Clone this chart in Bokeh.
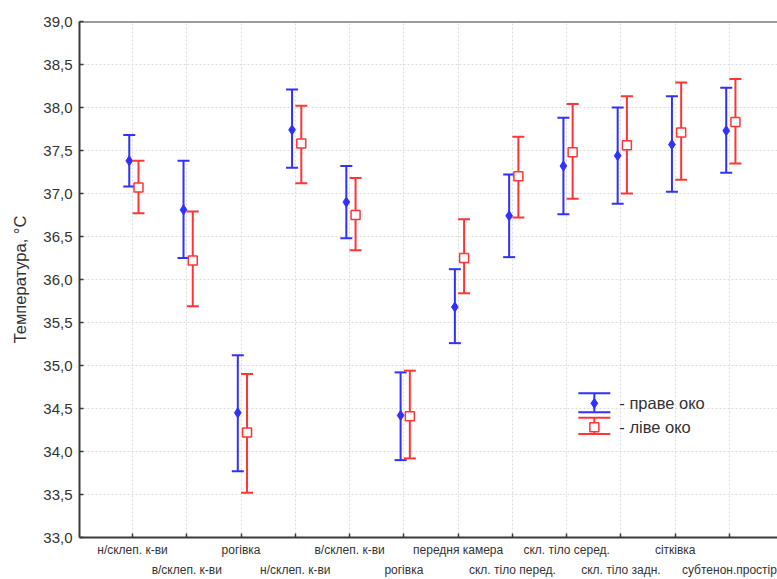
import numpy as np
from bokeh.plotting import figure
from bokeh.models import ColumnDataSource, FixedTicker, Span, Label, Range1d, LinearAxis
from bokeh.embed import file_html
from bokeh.resources import INLINE

# ---------------- data ----------------
categories = ["н/склеп. к-ви", "в/склеп. к-ви", "рогівка", "н/склеп. к-ви",
              "в/склеп. к-ви", "рогівка", "передня камера", "скл. тіло перед.",
              "скл. тіло серед.", "скл. тіло задн.", "сітківка", "субтенон.простір"]

right_mean  = [37.38, 36.81, 34.45, 37.74, 36.90, 34.42, 35.68, 36.74, 37.32, 37.44, 37.57, 37.73]
right_upper = [37.68, 37.38, 35.12, 38.21, 37.32, 34.92, 36.12, 37.22, 37.88, 38.00, 38.13, 38.23]
right_lower = [37.08, 36.25, 33.77, 37.30, 36.48, 33.90, 35.26, 36.26, 36.76, 36.88, 37.02, 37.24]

left_mean  = [37.07, 36.22, 34.22, 37.58, 36.75, 34.41, 36.25, 37.20, 37.48, 37.56, 37.71, 37.83]
left_upper = [37.38, 36.79, 34.90, 38.02, 37.18, 34.94, 36.70, 37.66, 38.04, 38.13, 38.29, 38.33]
left_lower = [36.77, 35.69, 33.52, 37.12, 36.34, 33.92, 35.84, 36.72, 36.94, 37.00, 37.16, 37.35]

y_ticks = [33.0, 33.5, 34.0, 34.5, 35.0, 35.5, 36.0, 36.5, 37.0, 37.5, 38.0, 38.5, 39.0]
y_tick_labels = ["33,0", "33,5", "34,0", "34,5", "35,0", "35,5", "36,0",
                 "36,5", "37,0", "37,5", "38,0", "38,5", "39,0"]

y_label = "Температура, °C"
legend_labels = ["- праве око", "- ліве око"]

# ---------------- styles ----------------
BLUE = "#3030ff"
RED = "#ff3535"
AXIS = "#3a3a3a"
TEXT = "#333333"
GRID = "#dcdcdc"
FONT = "Liberation Sans"
BLUE_SHIFT = -0.06
RED_SHIFT = 0.11

idx = np.arange(1, len(categories) + 1)
ticks = [int(i) for i in idx]

p = figure(width=777, height=579, output_backend="svg", toolbar_location=None,
           x_range=Range1d(0.023, 12.885), y_range=Range1d(y_ticks[0], y_ticks[-1]),
           min_border_left=79, min_border_right=0, min_border_top=21, min_border_bottom=0)
p.outline_line_color = None
p.background_fill_color = "white"

# ---- bottom axis: first row of category labels ----
xa = p.xaxis[0]
xa.ticker = FixedTicker(ticks=ticks)
xa.major_label_overrides = {t: (categories[t - 1] if t % 2 == 1 else "") for t in ticks}
xa.major_label_text_font = FONT
xa.major_label_text_font_size = "12px"
xa.major_label_text_color = TEXT
xa.major_label_standoff = 5
xa.major_tick_in = 4
xa.major_tick_out = 0
xa.minor_tick_line_color = None
xa.axis_line_width = 2
xa.axis_line_color = AXIS
xa.major_tick_line_color = AXIS
xa.major_tick_line_width = 1.5

# ---- second row of category labels ----
xa2 = LinearAxis(ticker=FixedTicker(ticks=ticks))
xa2.major_label_overrides = {t: (categories[t - 1] if t % 2 == 0 else "") for t in ticks}
xa2.major_label_text_font = FONT
xa2.major_label_text_font_size = "12px"
xa2.major_label_text_color = TEXT
xa2.major_label_standoff = 3
xa2.axis_line_color = None
xa2.major_tick_line_color = None
xa2.minor_tick_line_color = None
xa2.major_tick_in = 0
xa2.major_tick_out = 0
p.add_layout(xa2, "below")

# ---- left axis ----
p.yaxis.ticker = FixedTicker(ticks=y_ticks)
p.yaxis.major_label_overrides = {t: s for t, s in zip(y_ticks, y_tick_labels)}
p.yaxis.major_label_text_font = FONT
p.yaxis.major_label_text_font_size = "15px"
p.yaxis.major_label_text_color = TEXT
p.yaxis.major_label_standoff = 7
p.yaxis.major_tick_in = 4
p.yaxis.major_tick_out = 0
p.yaxis.minor_tick_line_color = None
p.yaxis.axis_line_width = 2
p.yaxis.axis_line_color = AXIS
p.yaxis.major_tick_line_color = AXIS
p.yaxis.major_tick_line_width = 1.5
p.yaxis.axis_label = y_label
p.yaxis.axis_label_text_font = FONT
p.yaxis.axis_label_text_font_size = "16.5px"
p.yaxis.axis_label_text_font_style = "normal"
p.yaxis.axis_label_text_color = TEXT
p.yaxis.axis_label_standoff = 11

for g in (p.xgrid, p.ygrid):
    g.grid_line_color = GRID
    g.grid_line_dash = "2 2"
    g.grid_line_width = 1
p.xgrid.ticker = FixedTicker(ticks=ticks)
p.ygrid.ticker = FixedTicker(ticks=y_ticks)

# top border line
p.add_layout(Span(location=y_ticks[-1], dimension="width", line_color=AXIS, line_width=2))

# ---------------- series ----------------
def draw_series(xs, mean, upper, lower, color, marker, size, fill, line_w):
    src = ColumnDataSource(dict(x=xs, m=mean, u=upper, l=lower))
    p.segment(x0="x", y0="l", x1="x", y1="u", source=src, line_color=color, line_width=2)
    p.scatter(x="x", y="u", source=src, marker="dash", size=12, line_color=color, line_width=2)
    p.scatter(x="x", y="l", source=src, marker="dash", size=12, line_color=color, line_width=2)
    p.scatter(x="x", y="m", source=src, marker=marker, size=size, fill_color=fill,
              line_color=color, line_width=line_w)

draw_series(idx + BLUE_SHIFT, right_mean, right_upper, right_lower, BLUE, "diamond", 10, BLUE, 1)
draw_series(idx + RED_SHIFT, left_mean, left_upper, left_lower, RED, "square", 9, "white", 1.5)

# ---------------- legend (drawn by hand) ----------------
LEG_X = 9.51
LEG_TXT_X = 9.97
leg_blue = dict(top=34.677, bot=34.456, mid=34.560)
leg_red = dict(top=34.393, bot=34.203, mid=34.281)

for d, color, marker, size, fill, lw in ((leg_blue, BLUE, "diamond", 10, BLUE, 1),
                                         (leg_red, RED, "square", 9, "white", 1.5)):
    p.segment(x0=[LEG_X], y0=[d["bot"]], x1=[LEG_X], y1=[d["top"]], line_color=color, line_width=2)
    p.scatter(x=[LEG_X, LEG_X], y=[d["top"], d["bot"]], marker="dash", size=32,
              line_color=color, line_width=2)
    p.scatter(x=[LEG_X], y=[d["mid"]], marker=marker, size=size, fill_color=fill,
              line_color=color, line_width=lw)

for d, txt in ((leg_blue, legend_labels[0]), (leg_red, legend_labels[1])):
    p.add_layout(Label(x=LEG_TXT_X, y=d["mid"], text=txt, text_baseline="middle",
                       text_font=FONT, text_font_size="16.5px", text_color=TEXT))

open("out.html", "w").write(file_html(p, INLINE))
